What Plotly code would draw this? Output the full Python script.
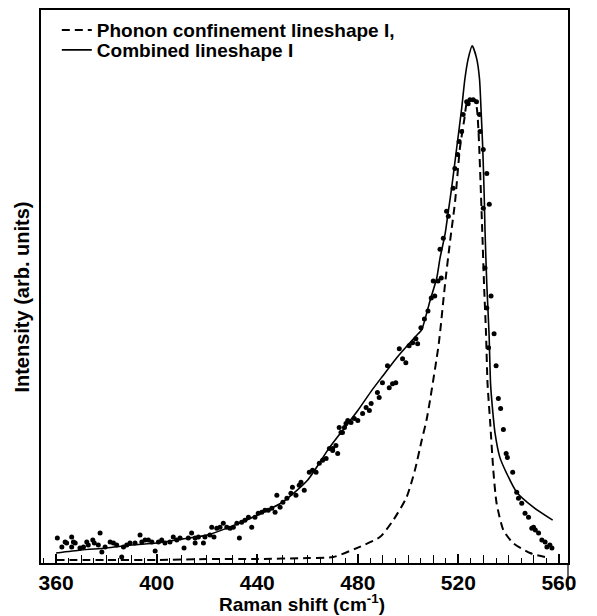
import plotly.graph_objects as go

# ---- data (arb. units) ----
raman_x = [360.5, 362.3, 363.6, 364.2, 366.2, 366.2, 366.9, 367.6, 369.5, 370.9,
           372.2, 372.8, 374.6, 375.2, 376.8, 377.5, 378.2, 379.5, 381.5, 382.8,
           384.1, 386.1, 386.8, 388.1, 389.4, 391.4, 393.4, 394.1, 395.4, 396.7,
           398.1, 399.4, 400.7, 402.0, 403.3, 405.3, 406.6, 408.0, 409.3, 410.9,
           412.6, 413.9, 415.3,
           415.3, 416.6, 418.6, 419.2, 421.2, 421.9, 422.8, 423.9, 425.2, 426.5,
           427.9, 429.2, 430.5, 431.9, 432.9, 433.8, 435.1, 436.5, 437.8, 439.1,
           440.4, 441.8, 443.1, 444.4, 445.8, 447.1, 447.8, 449.1, 450.2, 451.8,
           453.4, 454.0, 455.4, 456.7, 457.4, 458.7, 460.7, 462.0, 463.4, 464.7,
           466.0, 467.4, 468.7, 470.0, 470.0, 471.3, 472.0, 472.6, 473.3, 473.9,
           474.7, 475.3, 476.0,
           477.3, 478.6, 480.0, 481.9, 483.3, 484.6, 485.3, 487.8, 488.5, 489.8,
           491.8, 492.5, 493.8, 495.1, 496.5, 497.8, 499.1, 500.4, 501.8, 503.1,
           503.8, 505.1, 506.5, 507.9, 509.2, 510.0, 510.6, 511.9, 512.7, 513.2,
           514.0, 515.3, 516.0,
           517.9, 518.6, 519.7, 520.3, 521.3, 521.9, 523.3, 523.9, 524.6, 525.9,
           527.2, 528.4, 528.6, 529.9, 529.9, 530.6, 531.3, 531.3, 532.0, 532.3,
           533.0,
           534.2, 535.0, 535.9, 536.8, 537.9, 539.0, 539.5, 541.6, 543.2, 543.9,
           545.2, 546.5, 547.9, 549.2, 549.9, 550.6, 551.9, 553.2, 554.5, 555.2,
           556.4, 557.2]
raman_y = [0.25, 0.16, 0.21, 0.20, 0.26, 0.16, 0.21, 0.20, 0.15, 0.16,
           0.21, 0.18, 0.23, 0.20, 0.18, 0.30, 0.11, 0.16, 0.21, 0.20,
           0.18, 0.06, 0.16, 0.18, 0.20, 0.20, 0.28, 0.21, 0.23, 0.23,
           0.21, 0.12, 0.21, 0.23, 0.20, 0.21, 0.26, 0.23, 0.25, 0.15,
           0.25, 0.30, 0.25,
           0.20, 0.26, 0.20, 0.26, 0.28, 0.36, 0.26, 0.35, 0.36, 0.40,
           0.36, 0.35, 0.36, 0.40, 0.25, 0.41, 0.43, 0.46, 0.36, 0.46,
           0.50, 0.51, 0.53, 0.53, 0.55, 0.51, 0.68, 0.56, 0.61, 0.65,
           0.70, 0.76, 0.68, 0.78, 0.81, 0.73, 0.91, 0.93, 0.91, 1.00,
           1.03, 1.05, 1.15, 1.13, 1.15, 1.18, 1.10, 1.36, 1.31, 1.31,
           1.36, 1.40, 1.43,
           1.41, 1.45, 1.43, 1.50, 1.56, 1.53, 1.60, 1.71, 1.66, 1.81,
           1.98, 1.76, 1.80, 1.81, 2.15, 2.05, 2.01, 2.18, 2.21, 2.25,
           2.20, 2.36, 2.45, 2.53, 2.66, 2.83, 2.68, 2.83, 3.15, 2.86,
           3.26, 3.53, 3.48,
           3.76, 3.96, 4.10, 4.23, 4.33, 4.50, 4.63, 4.61, 4.65, 4.65,
           4.63, 4.50, 4.33, 4.15, 3.56, 2.96, 3.91, 2.56, 2.16, 3.60,
           2.68,
           2.30, 1.98, 1.65, 1.55, 1.34, 1.10, 1.06, 0.91, 0.71, 0.65,
           0.60, 0.50, 0.46, 0.35, 0.36, 0.33, 0.30, 0.23, 0.21, 0.16,
           0.18, 0.15]

phonon_x = [360, 380, 400, 420, 440, 460, 470.3, 479.6, 488.8, 494.1, 499.4, 502.7,
            505.4, 507.3, 508.7, 512.2, 514.7, 516.7, 518.7, 520.6, 522.4, 523.3,
            524.6, 526.6, 527.5, 528.2, 528.8, 529.5, 530.2, 531.0, 531.6, 532.6,
            533.9, 535.2, 537.9, 541.8, 548.5, 556.4]
phonon_y = [0.03, 0.03, 0.03, 0.04, 0.04, 0.05, 0.06, 0.15, 0.26, 0.43, 0.66, 0.93,
            1.23, 1.43, 1.63, 2.20, 2.80, 3.23, 3.63, 4.16, 4.46, 4.61,
            4.65, 4.65, 4.53, 4.23, 3.83, 3.33, 2.80, 2.30, 1.80, 1.43,
            0.93, 0.60, 0.33, 0.20, 0.10, 0.05]

combined_x = [360, 370, 380, 390, 400, 410, 420, 430, 440, 450, 460, 468.5, 473,
              480, 485.5, 490, 495.5, 500, 504, 505.4, 508.7, 511.4, 512.7, 514.7,
              516.0, 517.3, 519.3, 521.3, 522.6, 523.9, 525.5, 527.3, 528.4, 529.0,
              529.7, 530.3, 530.6, 531.3, 532.2, 532.8, 533.4, 534.6, 536.5, 539.2,
              543.2, 549.8, 557.5]
combined_y = [0.10, 0.13, 0.15, 0.18, 0.20, 0.24, 0.28, 0.37, 0.48, 0.61, 0.83, 1.15, 1.30,
              1.53, 1.73, 1.88, 2.06, 2.19, 2.30, 2.34, 2.63, 2.86, 3.06, 3.30,
              3.53, 3.76, 4.16, 4.56, 4.86, 5.06, 5.19, 5.06, 4.86, 4.56,
              4.16, 3.66, 3.33, 2.80, 2.30, 1.80, 1.60, 1.30, 1.06, 0.90,
              0.71, 0.56, 0.43]

x_ticks = [360, 400, 440, 480, 520, 560]
legend_labels = ["Phonon confinement lineshape I,", "Combined lineshape I"]
x_title = "Raman shift (cm<sup>-1</sup>)"
y_title = "Intensity (arb. units)"

FONT = "Liberation Sans"

fig = go.Figure()
fig.add_trace(go.Scatter(x=raman_x, y=raman_y, mode="markers",
                         marker=dict(color="black", size=5),
                         showlegend=False, hoverinfo="skip"))
fig.add_trace(go.Scatter(x=phonon_x, y=phonon_y, mode="lines", name=legend_labels[0],
                         line=dict(color="black", width=2, dash="8px,5px", shape="spline",
                                   smoothing=0.6),
                         legend="legend"))
fig.add_trace(go.Scatter(x=combined_x, y=combined_y, mode="lines", name=legend_labels[1],
                         line=dict(color="black", width=1.6, shape="spline", smoothing=0.6),
                         legend="legend2"))
# helper axis carrying the 10-unit inner ticks
fig.add_trace(go.Scatter(x=[360, 560], y=[0, 0], mode="markers", marker=dict(opacity=0),
                         xaxis="x2", showlegend=False, hoverinfo="skip"))

fig.update_layout(
    width=597, height=616,
    margin=dict(l=41, r=29, t=8, b=53),
    paper_bgcolor="white", plot_bgcolor="white",
    font=dict(family=FONT, color="black"),
    xaxis=dict(range=[354.0, 563.6], tickmode="array", tickvals=x_ticks,
               ticks="inside", ticklen=9, tickwidth=1.5, tickcolor="black",
               showline=True, linecolor="black", linewidth=2, mirror=True,
               showgrid=False, zeroline=False,
               tickfont=dict(family=FONT, size=21, color="black", weight="bold"),
               ticklabelstandoff=0,
               minor=dict(dtick=5, tick0=360, ticks="inside", ticklen=5,
                          tickwidth=1.2, tickcolor="black", showgrid=False)),
    xaxis2=dict(range=[354.0, 563.6], overlaying="x", anchor="y", side="bottom",
                tickmode="linear", tick0=360, dtick=10, ticks="inside", ticklen=8,
                tickwidth=1.2, tickcolor="black", showticklabels=False,
                showgrid=False, zeroline=False, showline=False),
    yaxis=dict(range=[0, 5.55], showticklabels=False, ticks="",
               showline=True, linecolor="black", linewidth=2, mirror=True,
               showgrid=False, zeroline=False),
    legend=dict(x=0.03, y=0.998, xanchor="left", yanchor="top",
                bgcolor="rgba(0,0,0,0)",
                font=dict(family=FONT, size=19, color="black", weight="bold"),
                itemwidth=30, tracegroupgap=0),
    legend2=dict(x=0.03, y=0.962, xanchor="left", yanchor="top",
                 bgcolor="rgba(0,0,0,0)",
                 font=dict(family=FONT, size=19, color="black", weight="bold"),
                 itemwidth=30, tracegroupgap=0),
    annotations=[
        dict(text=x_title, xref="paper", yref="paper", x=0.495, y=-0.072,
             xanchor="center", yanchor="middle", showarrow=False,
             font=dict(family=FONT, size=19, color="black", weight="bold")),
        dict(text=y_title, xref="paper", yref="paper", x=-0.036, y=0.48,
             xanchor="center", yanchor="middle", showarrow=False, textangle=-90,
             font=dict(family=FONT, size=20, color="black", weight="bold")),
    ],
    shapes=[dict(type="line", xref="paper", yref="paper", x0=1, x1=1, y0=0, y1=-0.05,
                 line=dict(color="black", width=1.2))],
)

fig.write_html("out.html")
